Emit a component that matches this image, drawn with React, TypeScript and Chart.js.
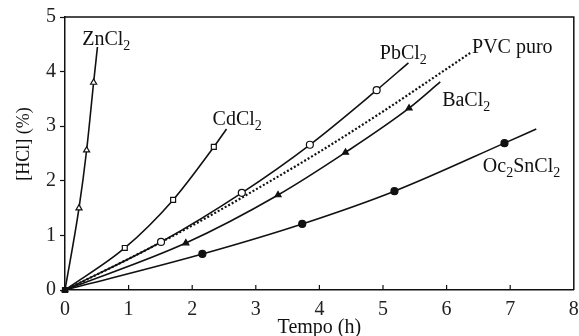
import React, { useEffect, useRef } from "react";
import { Chart, registerables } from "chart.js";

Chart.register(...registerables);

// Data (time in h, [HCl] in %)
const znX = [0, 0.22, 0.34, 0.45, 0.51];
const znY = [0, 1.5, 2.56, 3.8, 4.45];
const cdX = [0, 0.94, 1.7, 2.34, 2.54];
const cdY = [0, 0.77, 1.65, 2.62, 2.95];
const pbX = [0, 1.51, 2.78, 3.85, 4.9, 5.4];
const pbY = [0, 0.88, 1.78, 2.66, 3.66, 4.16];
const pvcX = [0, 1, 2, 3, 4, 5, 6, 6.37];
const pvcY = [0, 0.57, 1.18, 1.84, 2.53, 3.27, 4.05, 4.34];
const baX = [0, 1.9, 3.35, 4.41, 5.41, 5.9];
const baY = [0, 0.86, 1.74, 2.52, 3.33, 3.81];
const ocX = [0, 2.16, 3.73, 5.18, 6.91, 7.41];
const ocY = [0, 0.66, 1.21, 1.81, 2.69, 2.95];

// Curve labels: [text, isSubscript] pieces
const labelParts: [string, boolean][][] = [
  [["ZnCl", false], ["2", true]],
  [["CdCl", false], ["2", true]],
  [["PbCl", false], ["2", true]],
  [["PVC puro", false]],
  [["BaCl", false], ["2", true]],
  [["Oc", false], ["2", true], ["SnCl", false], ["2", true]],
];
const labelX = [0.27, 2.32, 4.95, 6.4, 5.93, 6.57];
const labelY = [4.6, 3.13, 4.34, 4.45, 3.48, 2.27];

const xTitle = "Tempo (h)";
const yTitle = "[HCl] (%)";

const FONT = "'Liberation Serif', 'Times New Roman', serif";

const pts = (xs: number[], ys: number[]) => xs.map((x, i) => ({ x, y: ys[i] }));
const radii = (n: number, showOrigin: boolean) =>
  Array.from({ length: n }, (_, i) =>
    i === n - 1 || (i === 0 && !showOrigin) ? 0 : 3.5
  );

export default function App() {
  const ref = useRef<HTMLCanvasElement>(null);
  useEffect(() => {
    const canvas = ref.current!;
    const mk = (
      xs: number[],
      ys: number[],
      style: string,
      filled: boolean,
      dashed = false
    ) => ({
      data: pts(xs, ys),
      borderColor: "#111",
      borderWidth: dashed ? 2.2 : 1.6,
      borderDash: dashed ? [2, 2] : [],
      pointStyle: style,
      pointRadius: dashed ? 0 : radii(xs.length, filled),
      pointBorderWidth: 1.2,
      pointBorderColor: "#111",
      pointBackgroundColor: filled ? "#111" : "#fff",
      tension: 0.4,
      cubicInterpolationMode: "monotone" as const,
      fill: false,
      clip: false,
    });

    const labelsPlugin = {
      id: "labels",
      afterDraw(chart: any) {
        const { ctx, chartArea, scales } = chart;
        ctx.save();
        // frame (top, right)
        ctx.strokeStyle = "#111";
        ctx.lineWidth = 1.5;
        ctx.beginPath();
        ctx.moveTo(chartArea.left, chartArea.top);
        ctx.lineTo(chartArea.right, chartArea.top);
        ctx.lineTo(chartArea.right, chartArea.bottom);
        ctx.stroke();
        // inward x ticks
        ctx.lineWidth = 1.2;
        for (let v = 1; v < 8; v++) {
          const px = scales.x.getPixelForValue(v);
          ctx.beginPath();
          ctx.moveTo(px, chartArea.bottom);
          ctx.lineTo(px, chartArea.bottom - 5);
          ctx.stroke();
        }
        ctx.fillStyle = "#111";
        ctx.textBaseline = "alphabetic";
        ctx.textAlign = "left";
        labelParts.forEach((parts, i) => {
          let x = scales.x.getPixelForValue(labelX[i]);
          const y = scales.y.getPixelForValue(labelY[i]) + 6;
          parts.forEach(([t, sub]) => {
            ctx.font = sub ? `14px ${FONT}` : `20px ${FONT}`;
            ctx.fillText(t, x, sub ? y + 5 : y);
            x += ctx.measureText(t).width;
          });
        });
        // y title
        ctx.font = `18px ${FONT}`;
        ctx.textAlign = "center";
        ctx.textBaseline = "middle";
        ctx.translate(24, 144);
        ctx.rotate(-Math.PI / 2);
        ctx.fillText(yTitle, 0, 0);
        ctx.restore();
      },
    };

    const chart = new Chart(canvas, {
      type: "line",
      data: {
        datasets: [
          mk(znX, znY, "triangle", false),
          mk(cdX, cdY, "rect", false),
          mk(pbX, pbY, "circle", false),
          mk(pvcX, pvcY, "circle", false, true),
          mk(baX, baY, "triangle", true),
          mk(ocX, ocY, "rect", true),
        ] as any,
      },
      options: {
        responsive: false,
        animation: false,
        layout: { padding: { top: 17, right: 1, left: 0, bottom: 0 } },
        plugins: { legend: { display: false }, tooltip: { enabled: false } },
        scales: {
          x: {
            type: "linear",
            min: 0,
            max: 8,
            ticks: {
              stepSize: 1,
              color: "#222",
              font: { family: FONT, size: 20 },
              padding: 8,
              maxRotation: 0,
            },
            grid: { drawOnChartArea: false, drawTicks: false },
            border: { color: "#111", width: 1.5 },
            title: {
              display: true,
              text: xTitle,
              color: "#111",
              font: { family: FONT, size: 20, lineHeight: 1 },
              padding: { top: 0, bottom: -2 },
            },
            afterFit(scale: any) {
              scale.height = 46;
              scale.paddingLeft = 0;
              scale.paddingRight = 0;
            },
          },
          y: {
            type: "linear",
            min: 0,
            max: 5,
            ticks: {
              stepSize: 1,
              color: "#222",
              font: { family: FONT, size: 20 },
              padding: 4,
            },
            grid: { drawOnChartArea: false, tickLength: 5, tickColor: "#111", tickWidth: 1.2 },
            border: { color: "#111", width: 1.5 },
            afterFit(scale: any) {
              scale.width = 65;
            },
          },
        },
      } as any,
      plugins: [labelsPlugin],
    });
    // filled circles for Oc2SnCl2 except the origin blob (square)
    const ds: any = chart.data.datasets[5];
    ds.pointStyle = ocX.map((_, i) => (i === 0 ? "rect" : "circle"));
    chart.update();
    return () => chart.destroy();
  }, []);
  return (
    <div style={{ position: "absolute", left: 0, top: 0, width: 579, height: 336, background: "#fff" }}>
      <canvas ref={ref} width={579} height={336} />
    </div>
  );
}
